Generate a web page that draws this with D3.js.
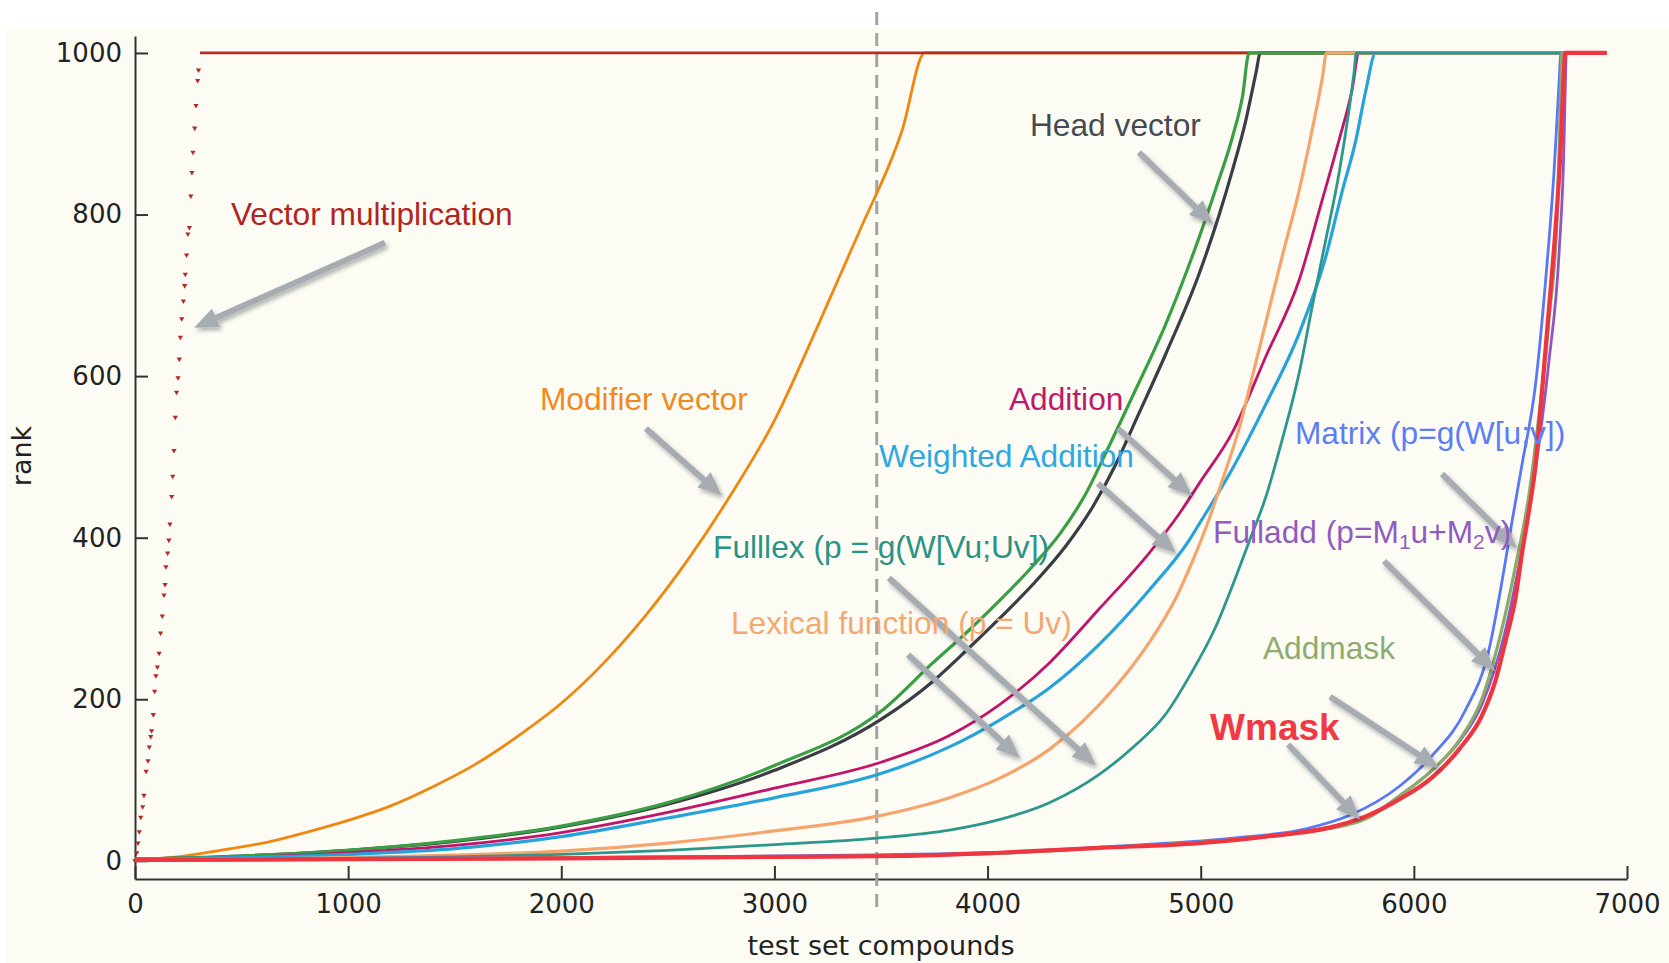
<!DOCTYPE html>
<html>
<head>
<meta charset="utf-8">
<script src="https://cdn.jsdelivr.net/npm/d3@7"></script>
<style>
  body { margin: 0; background: #fff; }
  svg text { font-family: "Liberation Sans", Arial, sans-serif; }
  .axis text { font-family: "DejaVu Sans", sans-serif; font-size: 26px; fill: #222; }
  .axis path, .axis line { stroke: #333; stroke-width: 2; }
</style>
</head>
<body>
<svg id="chart"></svg>
<script>
// ---- data (compound index, rank) ----
const nCompounds = 6905;
const maxRank = 1000;
const splitX = 3480;
const xTicks = [0, 1000, 2000, 3000, 4000, 5000, 6000, 7000];
const yTicks = [0, 200, 400, 600, 800, 1000];

const vectorMultiplication = [[0,0],[8,10],[14,22],[20,36],[27,54],[36,67],[42,81],[52,111],[61,124],[67,141],[74,154],
  [78,161],[86,181],[92,210],[98,229],[105,240],[113,257],[120,282],[128,303],[136,329],[141,342],[145,364],[153,381],
  [159,397],[164,417],[172,451],[177,476],[183,508],[189,549],[195,580],[202,598],[208,621],[213,648],[219,671],
  [227,693],[233,712],[236,726],[242,750],[248,776],[255,784],[262,823],[267,852],[272,877],[280,907],[286,935],
  [294,966],[298,979],[305,1000]];
const modifierVector = [[0,1],[200,5],[400,13],[600,22],[800,35],[1000,50],[1200,68],[1400,92],[1600,120],
  [1800,155],[2000,195],[2200,245],[2400,305],[2600,375],[2800,455],[3000,545],[3200,660],[3400,780],[3600,905],
  [3705,1000]];
const headVector = [[0,2],[500,6],[1000,13],[1500,24],[2000,42],[2500,70],[3000,112],[3500,175],[3743,222],
  [3899,260],[4056,300],[4212,342],[4368,390],[4493,438],[4600,490],[4700,548],[4837,628],[4993,727],[5087,800],
  [5149,855],[5212,917],[5259,975],[5280,1000]];
const unlabelledGreen = [[0,2],[500,6],[1000,13],[1500,25],[2000,43],[2500,72],[3000,118],[3500,185],[3743,245],
  [3899,282],[4056,322],[4212,365],[4340,405],[4462,455],[4555,505],[4680,575],[4837,665],[4960,748],[5071,832],
  [5148,895],[5196,946],[5227,1000]];
const addition = [[0,2],[500,4],[1000,10],[1500,19],[2000,35],[2500,60],[3000,90],[3500,122],[3821,155],[4055,193],
  [4290,245],[4524,312],[4758,381],[4900,430],[5000,470],[5148,530],[5305,624],[5462,719],[5570,818],[5649,892],
  [5710,954],[5743,1000]];
const weightedAddition = [[0,2],[500,4],[1000,8],[1500,15],[2000,30],[2500,53],[3000,78],[3500,108],[3821,141],
  [4055,174],[4290,214],[4524,268],[4758,335],[4946,397],[5000,420],[5148,485],[5305,565],[5462,653],[5587,748],
  [5665,830],[5728,892],[5775,954],[5821,1000]];
const lexicalFunction = [[0,1],[500,2],[1000,4],[1500,7],[2000,12],[2500,22],[3000,37],[3480,55],[3821,78],
  [4055,102],[4290,138],[4444,172],[4602,216],[4758,270],[4883,325],[4960,370],[5024,412],[5100,470],[5180,535],
  [5241,598],[5305,666],[5382,748],[5462,830],[5523,905],[5570,968],[5590,1000]];
const fulllex = [[0,1],[500,2],[1000,3],[1500,5],[2000,8],[2500,13],[3000,20],[3480,28],[3821,38],[4055,51],
  [4290,72],[4524,107],[4680,140],[4837,182],[4946,228],[5071,290],[5148,340],[5227,395],[5305,450],[5382,521],
  [5462,604],[5523,686],[5587,769],[5649,851],[5696,930],[5719,975],[5730,1000]];
const matrix = [[0,1],[1000,3],[2000,4],[3000,6],[4000,10],[4524,17],[5148,28],[5500,40],[5696,56],[5931,92],
  [6085,130],[6243,187],[6353,262],[6413,345],[6460,419],[6507,490],[6571,590],[6618,718],[6657,850],[6681,962],
  [6690,1000]];
const fulladd = [[0,1],[1000,2],[2000,4],[3000,5],[4000,9],[4524,16],[5148,26],[5500,37],[5775,53],[5931,80],
  [6085,112],[6220,150],[6320,194],[6431,287],[6507,386],[6571,486],[6634,619],[6681,751],[6704,883],[6712,976],
  [6715,1000]];
const addmask = [[0,1],[1000,2],[2000,4],[3000,5],[4000,9],[4524,16],[5148,26],[5500,36],[5775,52],[5931,80],
  [6085,112],[6220,152],[6320,201],[6413,287],[6478,366],[6540,453],[6587,552],[6634,671],[6673,804],[6689,950],
  [6695,1000]];
const wmask = [[0,1],[1000,2],[2000,3],[3000,5],[3587,6],[4055,10],[4524,16],[4993,22],[5305,30],[5618,42],
  [5775,55],[5931,76],[6085,103],[6212,138],[6320,180],[6384,224],[6431,273],[6478,327],[6507,380],[6540,433],
  [6571,490],[6601,580],[6634,684],[6665,784],[6689,883],[6704,976],[6710,1000]];

// drawing order (later on top)
const series = [
  {key: 'modifier', data: modifierVector, color: '#f0870f'},
  {key: 'vecmult', data: vectorMultiplication, color: '#b52a22', dotsOnly: true},
  {key: 'head', data: headVector, color: '#3a3d45', width: 3.2},
  {key: 'green', data: unlabelledGreen, color: '#3a9e44', width: 3.2},
  {key: 'addition', data: addition, color: '#c0156b'},
  {key: 'weighted', data: weightedAddition, color: '#27a3dc', width: 3.2},
  {key: 'lexical', data: lexicalFunction, color: '#f5a46c', width: 3.2},
  {key: 'fulllex', data: fulllex, color: '#2c978a'},
  {key: 'matrix', data: matrix, color: '#5878f5'},
  {key: 'fulladd', data: fulladd, color: '#8e58c0'},
  {key: 'addmask', data: addmask, color: '#8aab6a', width: 3.2},
  {key: 'wmask', data: wmask, color: '#ef3540', width: 4.2}
];

// annotations: text anchor and arrow (from -> to) in data units
const annotations = [
  {text: 'Vector multiplication', color: '#b3241c', at: [450, 801], from: [1173, 765], to: [277, 660]},
  {text: 'Modifier vector', color: '#ef8a1f', at: [1900, 572], from: [2397, 535], to: [2754, 452]},
  {text: 'Head vector', color: '#454a52', at: [4199, 911], from: [4710, 877], to: [5058, 788]},
  {text: 'Addition', color: '#bd1a6c', at: [4100, 572], from: [4612, 535], to: [4959, 452]},
  {text: 'Weighted Addition', color: '#2fa8dd', at: [3491, 501], from: [4518, 467], to: [4884, 381]},
  {text: 'Fulllex (p = g(W[Vu;Uv])', color: '#2a9384', at: [2712, 389], from: [3537, 350], to: [4509, 118]},
  {text: 'Lexical function (p = Uv)', color: '#f4a872', at: [2796, 295], from: [3627, 255], to: [4152, 127]},
  {text: 'Matrix (p=g(W[u;v])', color: '#5c7ef4', at: [5442, 530], from: [6132, 479], to: [6484, 387]},
  {text: 'Fulladd (p=M_1u+M_2v)', color: '#905cbf', at: [5058, 407], from: [5860, 371], to: [6381, 235]},
  {text: 'Addmask', color: '#8fac6e', at: [5292, 264], from: [5607, 203], to: [6118, 115]},
  {text: 'Wmask', color: '#ef3a44', at: [5044, 166], from: [5410, 144], to: [5747, 51], bold: true}
];

// ---- chart ----
const width = 1669, height = 963;
const svg = d3.select('#chart').attr('width', width).attr('height', height);

svg.append('rect')
  .attr('x', 6).attr('y', 28)
  .attr('width', width - 6).attr('height', height - 28)
  .attr('fill', '#fcfcf5');

const x = d3.scaleLinear().domain([0, 7000]).range([135, 1627]);
const y = d3.scaleLinear().domain([-22.5, 1021]).range([879, 36]);

const defs = svg.append('defs');
const shadow = defs.append('filter').attr('id', 'shadow')
  .attr('x', '-20%').attr('y', '-20%').attr('width', '140%').attr('height', '140%');
shadow.append('feDropShadow')
  .attr('dx', 2).attr('dy', 3).attr('stdDeviation', 2)
  .attr('flood-color', '#000').attr('flood-opacity', 0.3);

// axes
svg.append('g')
  .attr('class', 'axis x-axis')
  .attr('transform', 'translate(0,879)')
  .call(d3.axisBottom(x).tickValues(xTicks).tickFormat(d3.format('d'))
    .tickSizeInner(-13).tickSizeOuter(0).tickPadding(16));

svg.append('g')
  .attr('class', 'axis y-axis')
  .attr('transform', 'translate(135,0)')
  .call(d3.axisLeft(y).tickValues(yTicks).tickFormat(d3.format('d'))
    .tickSizeInner(-13).tickSizeOuter(0).tickPadding(13));

svg.append('text')
  .attr('transform', 'translate(23,456) rotate(-90)')
  .attr('text-anchor', 'middle').attr('dominant-baseline', 'middle')
  .style('font-family', '"DejaVu Sans", sans-serif').style('font-size', '27px').attr('fill', '#222')
  .text('rank');

svg.append('text')
  .attr('x', 881).attr('y', 947)
  .attr('text-anchor', 'middle').attr('dominant-baseline', 'middle')
  .style('font-family', '"DejaVu Sans", sans-serif').style('font-size', '27px').attr('fill', '#222')
  .text('test set compounds');

// dashed split line
svg.append('line')
  .attr('x1', x(splitX)).attr('x2', x(splitX))
  .attr('y1', 12).attr('y2', 915)
  .attr('stroke', '#a3a3a3').attr('stroke-width', 3)
  .attr('stroke-dasharray', '13,8');

// curves
const line = d3.line()
  .x(d => x(d[0]))
  .y(d => y(d[1]))
  .curve(d3.curveMonotoneX);

const plot = svg.append('g').attr('class', 'series');

series.forEach(s => {
  const full = s.data.concat([[nCompounds, maxRank]]);
  const lineData = s.dotsOnly ? full.filter(d => d[1] >= maxRank) : full;
  const g = plot.append('g').attr('class', 'series-' + s.key);

  g.append('path')
    .datum(lineData)
    .attr('d', line)
    .attr('fill', 'none')
    .attr('stroke', s.color)
    .attr('stroke-width', s.width || 2.8)
    .attr('stroke-linejoin', 'round');

  if (s.dotsOnly) {
    g.selectAll('.dot')
      .data(s.data.filter(d => d[1] < maxRank))
      .join('path')
      .attr('class', 'dot')
      .attr('transform', d => `translate(${x(d[0])},${y(d[1])}) rotate(180)`)
      .attr('d', d3.symbol().type(d3.symbolTriangle).size(12))
      .attr('fill', s.color);
  }
});

// annotation arrows
const arrows = svg.append('g').attr('class', 'arrows').attr('filter', 'url(#shadow)');
annotations.forEach(a => {
  const x0 = x(a.from[0]), y0 = y(a.from[1]);
  const x1 = x(a.to[0]), y1 = y(a.to[1]);
  const len = Math.hypot(x1 - x0, y1 - y0);
  const ux = (x1 - x0) / len, uy = (y1 - y0) / len;
  const headLen = 24, headHalf = 10;
  const bx = x1 - ux * headLen, by = y1 - uy * headLen;
  arrows.append('line')
    .attr('x1', x0).attr('y1', y0)
    .attr('x2', bx + ux * 2).attr('y2', by + uy * 2)
    .attr('stroke', '#a7acb2').attr('stroke-width', 6);
  arrows.append('path')
    .attr('d', `M${x1},${y1}L${bx - uy * headHalf},${by + ux * headHalf}L${bx + uy * headHalf},${by - ux * headHalf}Z`)
    .attr('fill', '#a7acb2');
});

// annotation labels
const labels = svg.append('g').attr('class', 'labels');
annotations.forEach(a => {
  const t = labels.append('text')
    .attr('x', x(a.at[0])).attr('y', y(a.at[1]) + 3)
    .attr('dominant-baseline', 'middle')
    .attr('fill', a.color)
    .style('font-size', a.bold ? '37px' : '31.7px')
    .style('font-weight', a.bold ? 'bold' : 'normal');
  // "_n" marks a subscript
  const parts = a.text.split(/_(\d)/);
  if (parts.length === 1) {
    t.text(a.text);
  } else {
    parts.forEach((p, i) => {
      if (i % 2 === 1) {
        t.append('tspan').attr('dy', 8).style('font-size', '21px').text(p);
      } else {
        t.append('tspan').attr('dy', i === 0 ? 0 : -8).text(p);
      }
    });
  }
});
</script>
</body>
</html>
